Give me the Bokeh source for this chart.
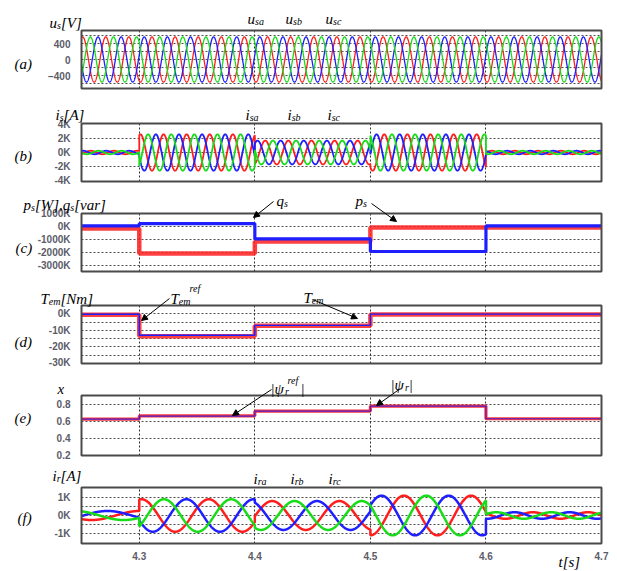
import numpy as np
from bokeh.plotting import figure
from bokeh.layouts import column
from bokeh.models import (FixedTicker, Label, Arrow, NormalHead, Range1d,
                          LinearAxis, Grid)
from bokeh.embed import file_html
from bokeh.resources import INLINE

# ---------------- data ----------------
t_edges = [4.25, 4.30, 4.40, 4.50, 4.60, 4.70]          # s, step instants

# (a) stator voltages  (amplitude V, frequency Hz, time of phase-a peak)
us_amp = [565, 565, 565, 565, 565]
us_freq = [50, 50, 50, 50, 50]
us_peak_t = [4.251, 4.251, 4.251, 4.251, 4.251]

# (b) stator currents
is_amp = [250, 2600, 1700, 2600, 250]
is_freq = [50, 50, 50, 50, 50]
is_peak_t = [4.258, 4.301, 4.409, 4.512, 4.605]

# (c) active / reactive stator power levels per interval
ps_level = [-150e3, -2080e3, -1150e3, -80e3, -80e3]
qs_level = [50e3, 230e3, -950e3, -1920e3, 50e3]

# (d) electromagnetic torque: reference and measured
tem_ref = [-300, -13000, -7000, -200, -200]
tem_meas = [-600, -13600, -7200, -500, -500]

# (e) rotor flux magnitude: reference and measured
psi_ref = [0.625, 0.66, 0.72, 0.78, 0.63]
psi_meas = [0.625, 0.665, 0.72, 0.78, 0.63]

# (f) rotor currents
ir_amp = [250, 900, 800, 1100, 180]
ir_freq = [12, 17.2, 17.2, 17.2, 21]
ir_peak_t = [4.217, 4.302, 4.415, 4.529, 4.593]

# axis ticks
x_ticks = [4.3, 4.4, 4.5, 4.6, 4.7]
a_ticks = [-400, 0, 400]
b_ticks = [-4000, -2000, 0, 2000, 4000]
b_labels = ["-4K", "-2K", "0K", "2K", "4K"]
c_ticks = [-3000e3, -2000e3, -1000e3, 0, 1000e3]
c_labels = ["-3000K", "-2000K", "-1000K", "0K", "1000K"]
d_ticks = [-30000, -20000, -10000, 0]
d_labels = ["-30K", "-20K", "-10K", "0K"]
e_ticks = [0.2, 0.4, 0.6, 0.8]
f_ticks = [-1000, 0, 1000]
f_labels = ["-1K", "0K", "1K"]

RED, GREEN, BLUE = "#ff1e1e", "#18dc18", "#1e1eff"
T0, T1 = 4.25, 4.70


def three_phase(amps, freqs, peak_ts, dt=2e-4):
    ts, ph = [], [[], [], []]
    for k in range(len(amps)):
        t = np.arange(t_edges[k], t_edges[k + 1] + 1e-9, dt)
        for j in range(3):
            ph[j].append(amps[k] * np.cos(2 * np.pi * freqs[k] * (t - peak_ts[k]) - j * 2 * np.pi / 3))
        ts.append(t)
    return np.concatenate(ts), [np.concatenate(v) for v in ph]


# ---------------- layout (page pixels; the page has no margin) ----------------
W = 617
XL, XR = 81, 601                       # box left / right on the page
SX = (T1 - T0) / (XR - XL)
x_range = Range1d(T0 - XL * SX, T1 + (W - XR) * SX)

# fig top, height, box top, box bottom, box y-limits
panels = {
    "a": (0, 96, 30, 88, (-725, 725)),
    "b": (96, 91, 123, 181, (-4140, 4140)),
    "c": (187, 89, 213, 271, (-3460e3, 1005e3)),
    "d": (276, 91, 305, 363, (-30100, 5000)),
    "e": (367, 94, 395, 455, (0.195, 0.905)),
    "f": (461, 110, 487, 543, (-1550, 1550)),
}

HAS_CB = "cross_bounds" in Grid.properties()

# approximate advance widths (em) of Liberation Serif Italic
WID = {"a": .5, "b": .5, "c": .444, "e": .444, "f": .278, "i": .278, "m": .722,
       "p": .5, "q": .5, "r": .389, "s": .389, "u": .5, "v": .444, "x": .444,
       "T": .556, "W": .833, "V": .611, "A": .611, "N": .667, "[": .389, "]": .389,
       "(": .333, ")": .333, "|": .275, ",": .25, "\u03c8": .69}


def tw(text, size):
    return sum(WID.get(ch, .5) for ch in text) * size


def to_data(key, px, py):
    top, h, T, B, (y0, y1) = panels[key]
    x = T0 + (px - XL) * SX
    y = y1 - (py - T) / (B - T) * (y1 - y0)
    return x, y


def style_axis(ax, standoff):
    ax.axis_line_color = None
    ax.major_tick_line_color = None
    ax.minor_tick_line_color = None
    ax.major_tick_out = 0
    ax.major_tick_in = 0
    ax.major_label_standoff = standoff
    ax.major_label_text_font = "Liberation Sans"
    ax.major_label_text_font_size = "10px"
    ax.major_label_text_font_style = "bold"
    ax.major_label_text_color = "#5c5c68"


def make_fig(key, yticks, ylabels=None, grid=None, show_x=False):
    top, h, T, B, (y0, y1) = panels[key]
    s = (y1 - y0) / (B - T)
    yr = Range1d(y0 - (top + h - B) * s, y1 + (T - top) * s)
    p = figure(width=W, height=h, x_range=x_range, y_range=yr,
               output_backend="svg", toolbar_location=None,
               x_axis_location=None, y_axis_location=None,
               min_border_left=0, min_border_right=0,
               min_border_top=0, min_border_bottom=0)
    p.center = []
    p.outline_line_color = None
    p.background_fill_color = "white"
    p.border_fill_color = "white"

    ya = LinearAxis(fixed_location=T0, ticker=FixedTicker(ticks=yticks))
    if ylabels:
        ya.major_label_overrides = {v: lab for v, lab in zip(yticks, ylabels)}
    style_axis(ya, 11)
    p.add_layout(ya, "left")
    if show_x:
        xa = LinearAxis(fixed_location=y0, ticker=FixedTicker(ticks=x_ticks))
        style_axis(xa, 8)
        p.add_layout(xa, "below")

    gticks = grid if grid is not None else yticks
    vticks = [4.3, 4.4, 4.5, 4.6]
    if HAS_CB:
        gy = Grid(dimension=1, ticker=FixedTicker(ticks=gticks), cross_bounds=(T0, T1),
                  grid_line_color="#505050", grid_line_dash="2 2", grid_line_width=1)
        gx = Grid(dimension=0, ticker=FixedTicker(ticks=vticks), cross_bounds=(y0, y1),
                  grid_line_color="#303030", grid_line_dash="2 2", grid_line_width=1)
        p.add_layout(gy)
        p.add_layout(gx)
    else:
        p.segment(x0=[T0] * len(gticks), x1=[T1] * len(gticks), y0=gticks, y1=gticks,
                  line_color="#505050", line_dash="2 2", line_width=1)
        p.segment(x0=vticks, x1=vticks, y0=[y0] * 4, y1=[y1] * 4,
                  line_color="#303030", line_dash="2 2", line_width=1)
    return p


def box(p, key):
    top, h, T, B, (y0, y1) = panels[key]
    p.quad(left=[T0], right=[T1], bottom=[y0], top=[y1], fill_color=None,
           line_color="#4a4a4a", line_width=2)


def run(p, key, px, py, text, size=15):
    x, y = to_data(key, px, py)
    p.add_layout(Label(x=x, y=y, text=text, text_font="Liberation Serif",
                       text_font_size=f"{size}px", text_font_style="italic",
                       text_baseline="alphabetic", text_align="left",
                       text_color="black"))


def runs(p, key, px, py, parts):
    """parts: list of (text, size, dy) laid out one after the other"""
    for text, size, dy in parts:
        run(p, key, px, py + dy, text, size)
        px += tw(text, size)


def arrow(p, key, a, b):
    x1, y1 = to_data(key, *a)
    x2, y2 = to_data(key, *b)
    p.add_layout(Arrow(end=NormalHead(size=6, fill_color="black", line_color="black", line_width=1),
                       x_start=x1, y_start=y1, x_end=x2, y_end=y2,
                       line_color="black", line_width=1))


SUB = 3

# ---------------- (a) ----------------
pa = make_fig("a", a_ticks, grid=[-600, -400, -200, 0, 200, 400, 600])
t, (va, vb, vc) = three_phase(us_amp, us_freq, us_peak_t, dt=1e-4)
for v, c in ((va, RED), (vc, BLUE), (vb, GREEN)):
    pa.line(t, v, line_color=c, line_width=1.3)
box(pa, "a")
run(pa, "a", 14, 63, "(a)")
runs(pa, "a", 49, 22, [("u", 15, 0), ("s", 10, SUB), ("[V]", 15, 0)])
for x0, sub in ((247, "sa"), (285, "sb"), (325, "sc")):
    runs(pa, "a", x0, 18, [("u", 15, 0), (sub, 10, SUB)])

# ---------------- (b) ----------------
pb = make_fig("b", b_ticks, b_labels, grid=[-2000, 0, 2000])
t, (ia, ib, ic) = three_phase(is_amp, is_freq, is_peak_t)
for v, c in ((ia, RED), (ic, BLUE), (ib, GREEN)):
    pb.line(t, v, line_color=c, line_width=1.8)
box(pb, "b")
run(pb, "b", 14, 155, "(b)")
runs(pb, "b", 55, 114, [("i", 15, 0), ("s", 10, SUB), ("[A]", 15, 0)])
for x0, sub in ((245, "sa"), (287, "sb"), (327, "sc")):
    runs(pb, "b", x0, 114, [("i", 15, 0), (sub, 10, SUB)])

# ---------------- (c) ----------------
pc = make_fig("c", c_ticks, c_labels, grid=[-3000e3, -2000e3, -1000e3, 0])
pc.step(t_edges, ps_level + [ps_level[-1]], mode="after", line_color=RED, line_width=4.5, line_alpha=0.85)
pc.step(t_edges, qs_level + [qs_level[-1]], mode="after", line_color=BLUE, line_width=3.2)
box(pc, "c")
run(pc, "c", 15, 247, "(c)")
runs(pc, "c", 23, 204, [("p", 15, 0), ("s", 10, SUB), ("[W],q", 15, 0), ("s", 10, SUB), ("[var]", 15, 0)])
runs(pc, "c", 276, 200, [("q", 15, 0), ("s", 10, SUB)])
arrow(pc, "c", (273, 201), (253, 217))
runs(pc, "c", 355, 200, [("p", 15, 0), ("s", 10, SUB)])
arrow(pc, "c", (371, 203), (396, 221))

# ---------------- (d) ----------------
pd_ = make_fig("d", d_ticks, d_labels, grid=[-25000, -20000, -15000, -10000, -5000, 0])
pd_.step(t_edges, tem_meas + [tem_meas[-1]], mode="after", line_color=RED, line_width=4.5, line_alpha=0.85)
pd_.step(t_edges, tem_ref + [tem_ref[-1]], mode="after", line_color=BLUE, line_width=1.4)
box(pd_, "d")
run(pd_, "d", 14, 341, "(d)")
runs(pd_, "d", 40, 298, [("T", 15, 0), ("em", 10, SUB), ("[Nm]", 15, 0)])
runs(pd_, "d", 170, 298, [("T", 15, 0), ("em", 10, SUB)])
run(pd_, "d", 189, 288, "ref", 10)
arrow(pd_, "d", (169, 298), (141, 320))
runs(pd_, "d", 303, 297, [("T", 15, 0), ("em", 10, SUB)])
arrow(pd_, "d", (312, 299), (357, 318))

# ---------------- (e) ----------------
pe = make_fig("e", e_ticks, grid=[0.4, 0.6, 0.8])
pe.step(t_edges, psi_meas + [psi_meas[-1]], mode="after", line_color=RED, line_width=3.2, line_alpha=0.9)
pe.step(t_edges, psi_ref + [psi_ref[-1]], mode="after", line_color=BLUE, line_width=1.2, line_alpha=0.8)
box(pe, "e")
run(pe, "e", 14, 417, "(e)")
run(pe, "e", 57, 388, "x")
runs(pe, "e", 270, 388, [("|\u03c8", 15, 0), ("r", 10, SUB)])
run(pe, "e", 287, 380, "ref", 10)
run(pe, "e", 300, 388, "|")
arrow(pe, "e", (271, 389), (232, 415))
runs(pe, "e", 390, 384, [("|\u03c8", 15, 0), ("r", 10, SUB), ("|", 15, 0)])
arrow(pe, "e", (400, 388), (376, 405))

# ---------------- (f) ----------------
pf = make_fig("f", f_ticks, f_labels, grid=[-1000, -500, 0, 500, 1000], show_x=True)
t, (ra, rb, rc) = three_phase(ir_amp, ir_freq, ir_peak_t)
for v, c in ((ra, RED), (rc, BLUE), (rb, GREEN)):
    pf.line(t, v, line_color=c, line_width=2.5)
box(pf, "f")
run(pf, "f", 17, 517, "(f)")
runs(pf, "f", 52, 475, [("i", 15, 0), ("r", 10, SUB), ("[A]", 15, 0)])
for x0, sub in ((253, "ra"), (290, "rb"), (328, "rc")):
    runs(pf, "f", x0, 478, [("i", 15, 0), (sub, 10, SUB)])
run(pf, "f", 558, 561, "t[s]", 15)

layout = column(pa, pb, pc, pd_, pe, pf, spacing=0)
open("out.html", "w").write(file_html(layout, INLINE))
